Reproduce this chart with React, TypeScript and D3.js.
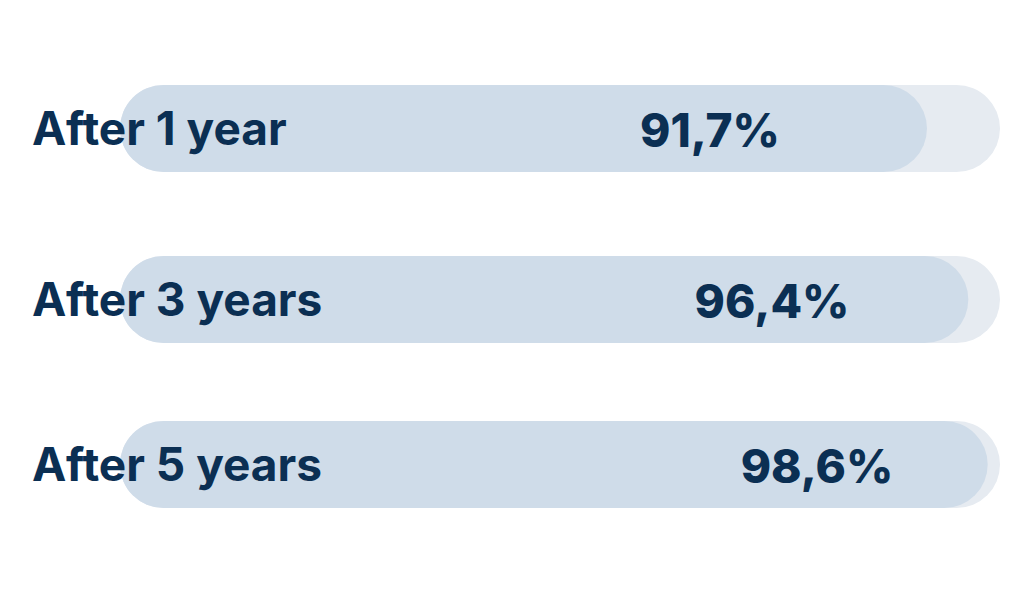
import React from "react";
import * as d3 from "d3";

const categories = ["After 1 year", "After 3 years", "After 5 years"];
const values = [91.7, 96.4, 98.6];
const valueLabels = ["91,7%", "96,4%", "98,6%"];
const maxValue = 100;

// layout (not data)
const rowCenters = [128.5, 299.5, 464.5];
const valueLabelCenters = [710, 772, 817];

const W = 1024;
const H = 600;
const BAR_H = 87;
const TEXT = "#0b2f53";
const FG = "#cfdce9";
const BG = "#e6ebf1";
const FONT = "Inter, 'DejaVu Sans', sans-serif";

export default function App() {
  const x = d3.scaleLinear().domain([0, maxValue]).range([120, 1000]);
  const r = BAR_H / 2;
  return (
    <div style={{ position: "absolute", left: 0, top: 0, width: W, height: H, background: "#fff" }}>
      <svg width={W} height={H} style={{ display: "block" }}>
        {categories.map((c, i) => {
          const cy = rowCenters[i];
          return (
            <g key={c}>
              <rect x={x(0)} y={cy - r} width={x(maxValue) - x(0)} height={BAR_H} rx={r} ry={r} fill={BG} />
              <rect x={x(0)} y={cy - r} width={x(values[i]) - x(0)} height={BAR_H} rx={r} ry={r} fill={FG} />
              <text x={32} y={cy + 16} fill={TEXT} fontFamily={FONT} fontWeight={700} fontSize={46}>
                {c}
              </text>
              <text x={valueLabelCenters[i]} y={cy + 18} fill={TEXT} fontFamily={FONT} fontWeight={800} fontSize={46} textAnchor="middle">
                {valueLabels[i]}
              </text>
            </g>
          );
        })}
      </svg>
    </div>
  );
}
